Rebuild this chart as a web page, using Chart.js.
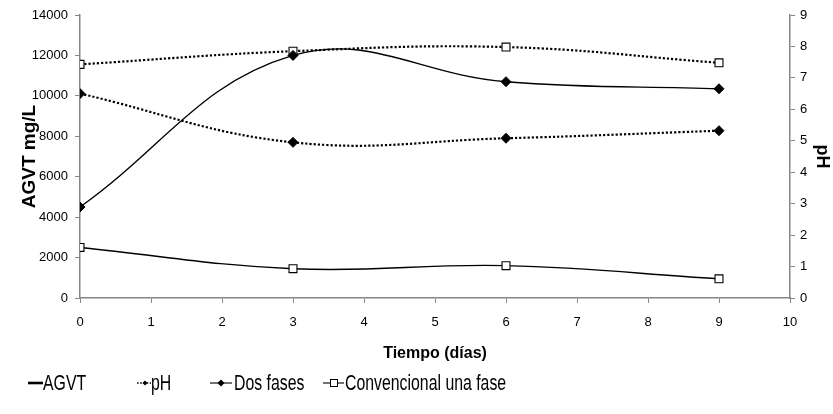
<!DOCTYPE html>
<html>
<head>
<meta charset="utf-8">
<script src="https://cdn.jsdelivr.net/npm/chart.js@4/dist/chart.umd.min.js"></script>
<style>
  html, body { margin: 0; padding: 0; background: #ffffff; }
  #wrap { width: 833px; height: 414px; position: relative; }
</style>
</head>
<body>
<div id="wrap"><canvas id="chart" width="833" height="414"></canvas></div>
<script>
// Sampling days
const dias = [0, 3, 6, 9];

// Total volatile fatty acids (mg/L)
const agvtDosFases = [4500, 12000, 10700, 10350];
const agvtConvencional = [2500, 1450, 1600, 950];

// pH
const phDosFases = [6.5, 4.95, 5.08, 5.32];
const phConvencional = [7.43, 7.85, 7.98, 7.48];

// Axis ticks
const xTicks = [0, 1, 2, 3, 4, 5, 6, 7, 8, 9, 10];
const agvtTicks = [0, 2000, 4000, 6000, 8000, 10000, 12000, 14000];
const phTicks = [0, 1, 2, 3, 4, 5, 6, 7, 8, 9];

// Legend entries
const legendLabels = ['AGVT', 'pH', 'Dos fases', 'Convencional una fase'];

const SANS = '"Liberation Sans", Arial, sans-serif';
const AXIS_GREY = '#868686';

const toPoints = (ys) => dias.map((d, i) => ({ x: d, y: ys[i] }));
const plain = (v) => String(v);

const solid = { borderColor: '#000', borderWidth: 1.4, tension: 0.4, fill: false };
const dotted = { borderColor: '#000', borderWidth: 2.2, borderDash: [2.2, 2], tension: 0.4, fill: false };
const diamond = { pointStyle: 'rectRot', pointRadius: 5, pointBackgroundColor: '#000', pointBorderColor: '#000', pointBorderWidth: 1 };
const square = { pointStyle: 'rect', pointRadius: 5.6, pointBackgroundColor: '#fff', pointBorderColor: '#000', pointBorderWidth: 1.1 };

// Legend row below the axis title (condensed lettering)
const legendPlugin = {
  id: 'figLegend',
  afterDraw(chart) {
    const ctx = chart.ctx;
    const y = 383;
    const squeeze = 0.72;
    const label = (text, x) => {
      ctx.save();
      ctx.translate(x, y + 1);
      ctx.scale(squeeze, 1);
      ctx.fillStyle = '#000';
      ctx.font = '22px ' + SANS;
      ctx.textBaseline = 'middle';
      ctx.fillText(text, 0, 0);
      ctx.restore();
    };
    ctx.save();
    ctx.strokeStyle = '#000';
    ctx.fillStyle = '#000';

    // AGVT: heavy solid line
    ctx.lineWidth = 2.6;
    ctx.beginPath(); ctx.moveTo(28, y); ctx.lineTo(43, y); ctx.stroke();
    label(legendLabels[0], 43);

    // pH: dotted line with a small diamond
    ctx.lineWidth = 1.6;
    ctx.setLineDash([1.6, 1.6]);
    ctx.beginPath(); ctx.moveTo(137, y); ctx.lineTo(151, y); ctx.stroke();
    ctx.setLineDash([]);
    ctx.beginPath();
    ctx.moveTo(145, y - 2.5); ctx.lineTo(147.5, y); ctx.lineTo(145, y + 2.5); ctx.lineTo(142.5, y); ctx.closePath();
    ctx.fill();
    label(legendLabels[1], 151);

    // Dos fases: thin line with a filled diamond
    ctx.lineWidth = 1.1;
    ctx.beginPath(); ctx.moveTo(210, y); ctx.lineTo(232, y); ctx.stroke();
    ctx.beginPath();
    ctx.moveTo(221, y - 3.5); ctx.lineTo(224.5, y); ctx.lineTo(221, y + 3.5); ctx.lineTo(217.5, y); ctx.closePath();
    ctx.fill();
    label(legendLabels[2], 234);

    // Convencional una fase: thin line with an open square
    ctx.beginPath(); ctx.moveTo(323, y); ctx.lineTo(344, y); ctx.stroke();
    ctx.fillStyle = '#fff';
    ctx.fillRect(330.5, y - 3.5, 7, 7);
    ctx.lineWidth = 1;
    ctx.strokeRect(330.5, y - 3.5, 7, 7);
    label(legendLabels[3], 345);
    ctx.restore();
  }
};

new Chart(document.getElementById('chart'), {
  type: 'line',
  data: {
    datasets: [
      { label: 'AGVT Dos fases', data: toPoints(agvtDosFases), yAxisID: 'y', ...solid, ...diamond },
      { label: 'pH Dos fases', data: toPoints(phDosFases), yAxisID: 'y2', ...dotted, ...diamond },
      { label: 'AGVT Convencional una fase', data: toPoints(agvtConvencional), yAxisID: 'y', ...solid, ...square },
      { label: 'pH Convencional una fase', data: toPoints(phConvencional), yAxisID: 'y2', ...dotted, ...square }
    ]
  },
  options: {
    responsive: false,
    animation: false,
    devicePixelRatio: 1,
    layout: { padding: { top: 15, left: 0, right: 0, bottom: 0 } },
    plugins: { legend: { display: false }, tooltip: { enabled: false } },
    scales: {
      x: {
        type: 'linear',
        min: 0, max: 10,
        afterBuildTicks: (s) => { s.ticks = xTicks.map(v => ({ value: v })); },
        afterFit: (s) => { s.height = 116; },
        border: { display: true, color: AXIS_GREY, width: 1.5 },
        grid: { display: true, drawOnChartArea: false, drawTicks: true, tickLength: 5, color: AXIS_GREY, lineWidth: 1 },
        ticks: { color: '#000', padding: 12, maxRotation: 0, autoSkip: false, callback: plain, font: { family: SANS, size: 13 } },
        title: { display: true, text: 'Tiempo (días)', color: '#000', font: { family: SANS, size: 16, weight: 'bold' }, padding: { top: 0, bottom: 51 } }
      },
      y: {
        position: 'left',
        min: 0, max: 14000,
        afterBuildTicks: (s) => { s.ticks = agvtTicks.map(v => ({ value: v })); },
        afterFit: (s) => { s.width = 80; },
        border: { display: true, color: AXIS_GREY, width: 1.5 },
        grid: { display: true, drawOnChartArea: false, drawTicks: true, tickLength: 5, color: AXIS_GREY, lineWidth: 1 },
        ticks: { color: '#000', padding: 7, callback: plain, font: { family: SANS, size: 13 } },
        title: { display: true, text: 'AGVT mg/L', color: '#000', font: { family: SANS, size: 19, weight: 'bold' }, padding: { top: 18, bottom: 0 } }
      },
      y2: {
        position: 'right',
        min: 0, max: 9,
        afterBuildTicks: (s) => { s.ticks = phTicks.map(v => ({ value: v })); },
        afterFit: (s) => { s.width = 43; },
        border: { display: true, color: AXIS_GREY, width: 1.5 },
        grid: { display: true, drawOnChartArea: false, drawTicks: true, tickLength: 5, color: AXIS_GREY, lineWidth: 1 },
        ticks: { color: '#000', padding: 5, callback: plain, font: { family: SANS, size: 13 } },
        title: { display: true, text: 'pH', color: '#000', font: { family: SANS, size: 18, weight: 'bold' }, padding: { top: 0, bottom: 0 } }
      }
    }
  },
  plugins: [legendPlugin]
});
</script>
</body>
</html>
